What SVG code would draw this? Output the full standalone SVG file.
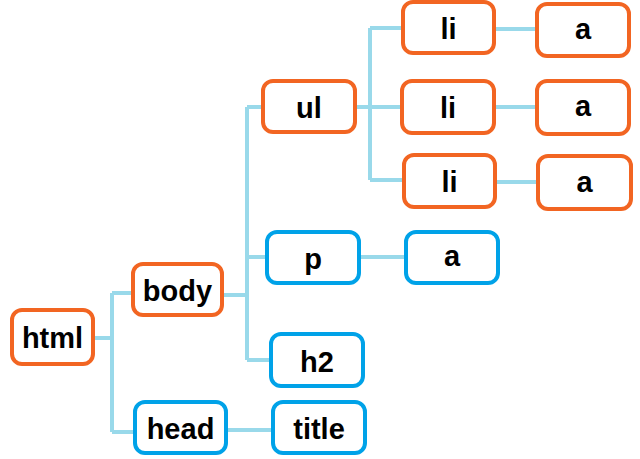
<svg xmlns="http://www.w3.org/2000/svg" width="640" height="459" viewBox="0 0 640 459">
<style>
.n rect{fill:#fff;stroke-width:4}
.o rect{stroke:#F26522}
.b rect{stroke:#00A2E8}
.n text{font-family:"Liberation Sans",Arial,sans-serif;font-weight:bold;font-size:29px;fill:#000;text-anchor:middle}
#connectors path{fill:none;stroke:#99D9EA;stroke-width:4}
</style>
<rect width="640" height="459" fill="#fff"/>
<g id="connectors">
<path d="M93 338H112M112 293V432M112 293H133M112 432H135"/>
<path d="M222 295H247M247 107V360M247 107H263M247 257H267M247 360H271"/>
<path d="M355 107H370M370 28V180M370 28H403M370 107H402M370 180H404"/>
<path d="M494 29H537M494 107H537M495 182H538"/>
<path d="M359 257H406M226 430H273"/>
</g>
<g id="html" class="n o"><rect x="12" y="310" width="81" height="54" rx="10"/><text x="52.5" y="348">html</text></g>
<g id="body" class="n o"><rect x="133" y="264" width="89" height="51" rx="10"/><text x="177.5" y="301">body</text></g>
<g id="head" class="n b"><rect x="135" y="402" width="91" height="51" rx="10"/><text x="180.5" y="439">head</text></g>
<g id="ul" class="n o"><rect x="263" y="81" width="92" height="51" rx="10"/><text x="309" y="118">ul</text></g>
<g id="p" class="n b"><rect x="267" y="232" width="92" height="51" rx="10"/><text x="313" y="269">p</text></g>
<g id="h2" class="n b"><rect x="271" y="334" width="92" height="52" rx="10"/><text x="317" y="372">h2</text></g>
<g id="title" class="n b"><rect x="273" y="402" width="92" height="51" rx="10"/><text x="319" y="439">title</text></g>
<g id="li1" class="n o"><rect x="403" y="2" width="91" height="51" rx="10"/><text x="448.5" y="39">li</text></g>
<g id="li2" class="n o"><rect x="402" y="81" width="92" height="52" rx="10"/><text x="448" y="118">li</text></g>
<g id="li3" class="n o"><rect x="404" y="155" width="91" height="52" rx="10"/><text x="449.5" y="192">li</text></g>
<g id="a_p" class="n b"><rect x="406" y="232" width="92" height="51" rx="10"/><text x="452" y="266">a</text></g>
<g id="a1" class="n o"><rect x="537" y="4" width="92" height="52" rx="10"/><text x="583" y="39">a</text></g>
<g id="a2" class="n o"><rect x="537" y="81" width="92" height="53" rx="10"/><text x="583" y="116">a</text></g>
<g id="a3" class="n o"><rect x="538" y="156" width="93" height="53" rx="10"/><text x="584.5" y="192">a</text></g>
</svg>
